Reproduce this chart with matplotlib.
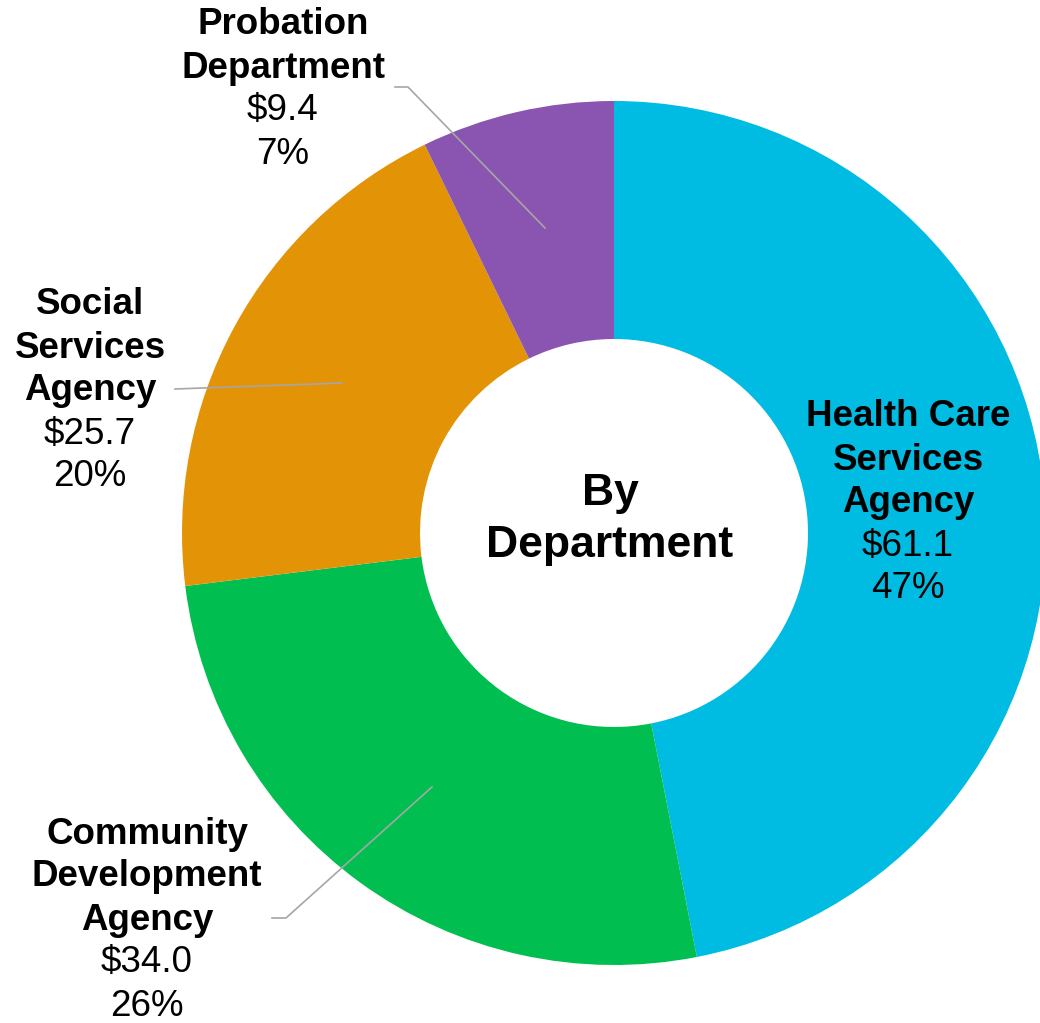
import matplotlib
matplotlib.use("Agg")
import matplotlib.pyplot as plt

# data
names = [["Health Care", "Services", "Agency"],
         ["Community", "Development", "Agency"],
         ["Social", "Services", "Agency"],
         ["Probation", "Department"]]
values = [61.1, 34.0, 25.7, 9.4]
colors = ["#00BCE2", "#00BF50", "#E39406", "#8A55B0"]

# label layout (pixel coords from top-left)
label_xy = [(908, 417), (147, 834), (90, 305), (283, 25)]
leaders = [None,
           [(272, 918), (286, 918), (432, 787)],
           [(175, 389), (342, 383)],
           [(395, 87), (408, 87), (545, 228)]]

W, H = 1040, 1023
fig = plt.figure(figsize=(W / 100, H / 100), dpi=100)
ax = fig.add_axes([0, 0, 1, 1])
fig.patch.set_facecolor("white")

cx, cy = 614, H - 533
r_out, r_in = 432, 194
ax.pie(values, colors=colors, startangle=90, counterclock=False,
       radius=r_out, center=(cx, cy),
       wedgeprops=dict(width=r_out - r_in, edgecolor="none"))
ax.set_xlim(0, W)
ax.set_ylim(0, H)
ax.set_aspect("equal")
ax.axis("off")

total = sum(values)
step = 43.0
font = "Liberation Sans"
for i, (nm, v) in enumerate(zip(names, values)):
    x, y0 = label_xy[i]
    lines = [(s, "bold") for s in nm]
    lines += [("$%.1f" % v, "normal"), ("%d%%" % round(100 * v / total), "normal")]
    for k, (s, w) in enumerate(lines):
        ax.text(x, H - (y0 + k * step), s, ha="center", va="center",
                fontsize=26.5, fontweight=w, family=font, color="black")
    if leaders[i] is not None:
        xs = [p[0] for p in leaders[i]]
        ys = [H - p[1] for p in leaders[i]]
        ax.plot(xs, ys, color="#A6A6A6", lw=1.2)

ax.text(cx - 4, H - 494, "By", ha="center", va="center", fontsize=32,
        fontweight="bold", family=font)
ax.text(cx - 4, H - 545, "Department", ha="center", va="center", fontsize=32,
        fontweight="bold", family=font)

plt.savefig("out.png", dpi=100)
